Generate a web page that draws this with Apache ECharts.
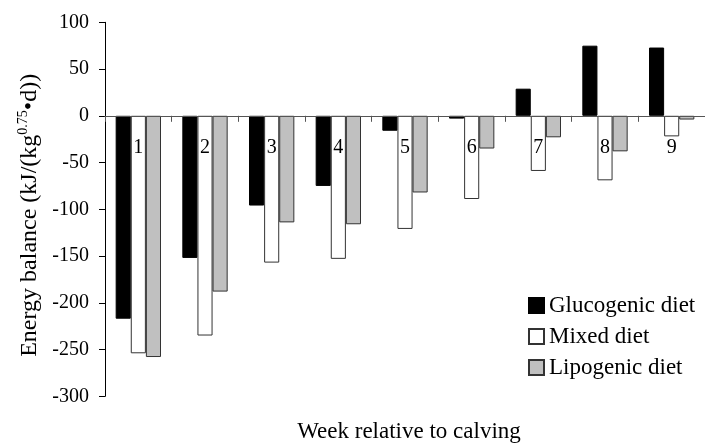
<!DOCTYPE html>
<html>
<head>
<meta charset="utf-8">
<script src="https://cdn.jsdelivr.net/npm/echarts@6/dist/echarts.min.js"></script>
<style>
html,body{margin:0;padding:0;background:#fff;}
#main{width:705px;height:444px;}
</style>
</head>
<body>
<div id="main"></div>
<script>
var categories = ['1', '2', '3', '4', '5', '6', '7', '8', '9'];
var glucogenic = [-217, -152, -96, -75, -16, -3, 29, 75, 73];
var mixed = [-254, -235, -157, -153, -121, -89, -59, -69, -22];
var lipogenic = [-258, -188, -114, -116, -82, -35, -23, -38, -4];
var seriesNames = ['Glucogenic diet', 'Mixed diet', 'Lipogenic diet'];
var yAxisTitle = 'Energy balance (kJ/(kg{sup|0.75}\u2022d))';
var xAxisTitle = 'Week relative to calving';

var FONT = 'Liberation Serif';
var GRID_TOP = 22.3, GRID_BOTTOM = 47.7, H = 444;
var Y_MIN = -300, Y_MAX = 100;
var plotH = H - GRID_TOP - GRID_BOTTOM;
// move the category axis up to the value 0 line
var zeroOffset = -plotH * (0 - Y_MIN) / (Y_MAX - Y_MIN);

var chart = echarts.init(document.getElementById('main'), null, {renderer: 'canvas'});
chart.setOption({
  backgroundColor: '#fff',
  animation: false,
  grid: {left: 105, top: GRID_TOP, width: 608.6, bottom: GRID_BOTTOM, containLabel: false},
  legend: {
    orient: 'vertical',
    left: 528,
    top: 294,
    padding: 0,
    itemWidth: 15,
    itemHeight: 15,
    itemGap: 8,
    icon: 'rect',
    textStyle: {fontFamily: FONT, fontSize: 23, color: '#000'},
    data: seriesNames
  },
  xAxis: {
    type: 'category',
    data: categories,
    z: 10,
    position: 'bottom',
    offset: zeroOffset,
    boundaryGap: true,
    axisLine: {onZero: false, lineStyle: {color: '#555', width: 1}},
    axisTick: {show: true, alignWithLabel: false, length: 6, lineStyle: {color: '#555'}},
    axisLabel: {fontFamily: FONT, fontSize: 20, color: '#000', margin: 22}
  },
  yAxis: {
    type: 'value',
    min: Y_MIN,
    max: Y_MAX,
    interval: 50,
    splitLine: {show: false},
    axisLine: {show: true, lineStyle: {color: '#000', width: 1}},
    axisTick: {show: true, length: 6, lineStyle: {color: '#000'}},
    axisLabel: {fontFamily: FONT, fontSize: 20, color: '#000', margin: 16},
    name: yAxisTitle,
    nameLocation: 'middle',
    nameRotate: 90,
    nameGap: 55,
    nameTextStyle: {
      fontFamily: FONT, fontSize: 24, color: '#000', padding: [0, 12, 0, 0],
      rich: {sup: {fontFamily: FONT, fontSize: 14, color: '#000', verticalAlign: 'top', padding: [0,0,12,0]}}
    }
  },
  graphic: [{
    type: 'text',
    x: 409,
    y: 432,
    style: {text: xAxisTitle, fontFamily: FONT, fontSize: 23, fill: '#000', align: 'center', verticalAlign: 'middle'}
  }],
  series: [
    {name: seriesNames[0], type: 'bar', data: glucogenic, barGap: '0%', barCategoryGap: '32%',
     itemStyle: {color: '#000', borderColor: '#000', borderWidth: 1}},
    {name: seriesNames[1], type: 'bar', data: mixed, barGap: '0%', barCategoryGap: '32%',
     itemStyle: {color: '#fff', borderColor: '#333', borderWidth: 1}},
    {name: seriesNames[2], type: 'bar', data: lipogenic, barGap: '0%', barCategoryGap: '32%',
     itemStyle: {color: '#c0c0c0', borderColor: '#333', borderWidth: 1}}
  ]
});
</script>
</body>
</html>
